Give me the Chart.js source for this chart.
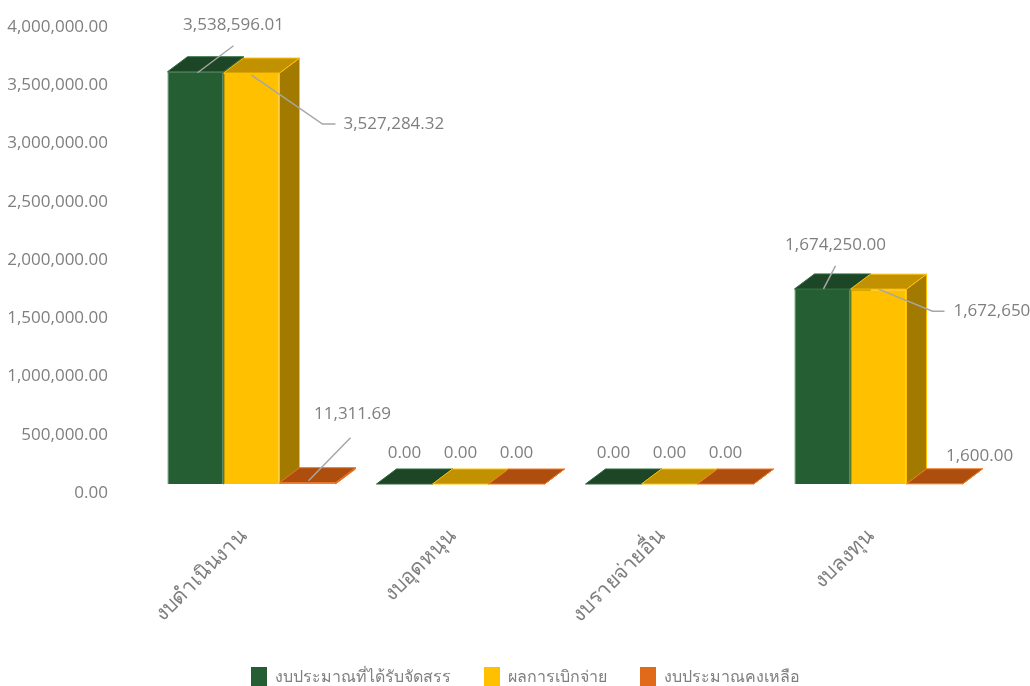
<!DOCTYPE html>
<html>
<head>
<meta charset="utf-8">
<script src="https://cdn.jsdelivr.net/npm/chart.js@4.4.1/dist/chart.umd.min.js"></script>
<style>
  html, body { margin: 0; padding: 0; background: #fff; }
  #wrap { width: 1030px; height: 686px; position: relative; }
</style>
</head>
<body>
<div id="wrap"><canvas id="budgetChart"></canvas></div>
<script>
// หมวดงบประมาณ
const categories = ['งบดำเนินงาน', 'งบอุดหนุน', 'งบรายจ่ายอื่น', 'งบลงทุน'];
const seriesNames = ['งบประมาณที่ได้รับจัดสรร', 'ผลการเบิกจ่าย', 'งบประมาณคงเหลือ'];
const allocated = [3538596.01, 0, 0, 1674250.00];
const disbursed = [3527284.32, 0, 0, 1672650.00];
const remaining = [11311.69, 0, 0, 1600.00];

// สีของแต่ละชุด: หน้า, ด้านบน, ด้านข้าง, เส้นขอบ
const faceColors = [
    { front: '#265E33', top: '#1D4626', side: '#173A1F', border: '#2F6B3C' },
    { front: '#FFC000', top: '#C29100', side: '#A27A00', border: '#FFC000' },
    { front: '#E06A1A', top: '#AE4E0E', side: '#8F400B', border: '#EE7626' }
];
const DEPTH_X = 20, DEPTH_Y = 15;

// ตำแหน่งป้ายข้อมูล (ระยะจากจุดกึ่งกลางขอบบนของแท่ง) และเส้นชี้
const labelPlacement = [
    [ { dx: 38, dy: -47, align: 'center', lead: [[2, 1], [38, -26]] },
      { dx: 0, dy: -31, align: 'center' },
      { dx: 0, dy: -31, align: 'center' },
      { dx: 13, dy: -44, align: 'center', lead: [[1, 0], [13, -23]] } ],
    [ { dx: 92, dy: 51, align: 'left', lead: [[0, 2], [71, 51], [84, 51]] },
      { dx: 0, dy: -31, align: 'center' },
      { dx: 0, dy: -31, align: 'center' },
      { dx: 75, dy: 22, align: 'left', lead: [[0, 0], [54, 22], [66, 22]] } ],
    [ { dx: 45, dy: -69, align: 'center', lead: [[1, -2], [43, -45]] },
      { dx: 0, dy: -31, align: 'center' },
      { dx: 0, dy: -31, align: 'center' },
      { dx: 45, dy: -28, align: 'center' } ]
];

const GRAY = '#7F7F7F';
const FONT = "'Open Sans', 'Noto Sans', sans-serif";
const fmt = v => v.toLocaleString('en-US', { minimumFractionDigits: 2, maximumFractionDigits: 2 });

// วาดด้านบนและด้านข้างของแท่งแบบ 3 มิติ ก่อนวาดหน้าแท่ง
const bar3d = {
    id: 'bar3d',
    beforeDatasetsDraw(chart) {
        const ctx = chart.ctx;
        ctx.save();
        ctx.lineWidth = 1;
        chart.data.datasets.forEach((ds, i) => {
            const meta = chart.getDatasetMeta(i);
            const c = faceColors[i];
            meta.data.forEach(el => {
                const { x, y, base, width } = el.getProps(['x', 'y', 'base', 'width'], true);
                const l = x - width / 2, r = x + width / 2;
                // ด้านข้าง
                ctx.beginPath();
                ctx.moveTo(r, base);
                ctx.lineTo(r + DEPTH_X, base - DEPTH_Y);
                ctx.lineTo(r + DEPTH_X, y - DEPTH_Y);
                ctx.lineTo(r, y);
                ctx.closePath();
                ctx.fillStyle = c.side;
                ctx.fill();
                ctx.strokeStyle = c.border;
                ctx.stroke();
                // ด้านบน
                ctx.beginPath();
                ctx.moveTo(l, y);
                ctx.lineTo(r, y);
                ctx.lineTo(r + DEPTH_X, y - DEPTH_Y);
                ctx.lineTo(l + DEPTH_X, y - DEPTH_Y);
                ctx.closePath();
                ctx.fillStyle = c.top;
                ctx.fill();
                ctx.stroke();
            });
        });
        ctx.restore();
    }
};

// ป้ายข้อมูลพร้อมเส้นชี้
const dataLabels = {
    id: 'dataLabels',
    afterDatasetsDraw(chart) {
        const ctx = chart.ctx;
        ctx.save();
        ctx.font = '17px ' + FONT;
        ctx.textBaseline = 'middle';
        chart.data.datasets.forEach((ds, i) => {
            const meta = chart.getDatasetMeta(i);
            meta.data.forEach((el, j) => {
                const p = labelPlacement[i][j];
                const { x, y } = el.getProps(['x', 'y'], true);
                if (p.lead) {
                    ctx.beginPath();
                    p.lead.forEach((pt, k) => {
                        if (k === 0) ctx.moveTo(x + pt[0], y + pt[1]);
                        else ctx.lineTo(x + pt[0], y + pt[1]);
                    });
                    ctx.strokeStyle = '#A6A6A6';
                    ctx.lineWidth = 1.5;
                    ctx.stroke();
                }
                ctx.fillStyle = GRAY;
                ctx.textAlign = p.align;
                ctx.fillText(fmt(ds.data[j]), x + p.dx, y + p.dy);
            });
        });
        ctx.restore();
    }
};

// เลื่อนคำอธิบายสัญลักษณ์ไปทางขวาเล็กน้อย
const legendShift = {
    id: 'legendShift',
    afterLayout(chart) {
        if (chart.legend) {
            chart.legend.left += 34;
            chart.legend.right += 34;
        }
    }
};

const seriesData = [allocated, disbursed, remaining];

new Chart(document.getElementById('budgetChart'), {
    type: 'bar',
    data: {
        labels: categories,
        datasets: seriesNames.map((name, i) => ({
            label: name,
            data: seriesData[i],
            backgroundColor: faceColors[i].front,
            borderColor: faceColors[i].border,
            borderWidth: 1,
            barPercentage: 1,
            categoryPercentage: 0.804
        }))
    },
    options: {
        responsive: true,
        maintainAspectRatio: false,
        animation: false,
        layout: { padding: { top: 18, right: 47, left: 0, bottom: -11 } },
        plugins: {
            legend: {
                position: 'bottom',
                labels: {
                    color: GRAY,
                    font: { family: FONT, size: 16 },
                    boxWidth: 16,
                    boxHeight: 20,
                    padding: 33,
                    generateLabels(chart) {
                        return chart.data.datasets.map((ds, i) => ({
                            text: ds.label,
                            fillStyle: faceColors[i].front,
                            strokeStyle: faceColors[i].front,
                            lineWidth: 0,
                            fontColor: GRAY,
                            datasetIndex: i
                        }));
                    }
                }
            },
            tooltip: { enabled: false }
        },
        scales: {
            x: {
                grid: { display: false, drawTicks: false },
                border: { display: false },
                ticks: {
                    color: GRAY,
                    font: { family: FONT, size: 21 },
                    minRotation: 45,
                    maxRotation: 45,
                    padding: 40,
                    labelOffset: -8
                },
                afterFit(scale) { scale.height = 150; }
            },
            y: {
                min: 0,
                max: 4000000,
                grid: { display: false, drawTicks: false },
                border: { display: false },
                ticks: {
                    stepSize: 500000,
                    color: GRAY,
                    font: { family: FONT, size: 17 },
                    padding: 39,
                    labelOffset: 9,
                    callback: v => fmt(v)
                },
                afterFit(scale) {
                    scale.width = 147;
                    scale.paddingTop = 0;
                    scale.paddingBottom = 0;
                }
            }
        }
    },
    plugins: [bar3d, dataLabels, legendShift]
});
</script>
</body>
</html>
